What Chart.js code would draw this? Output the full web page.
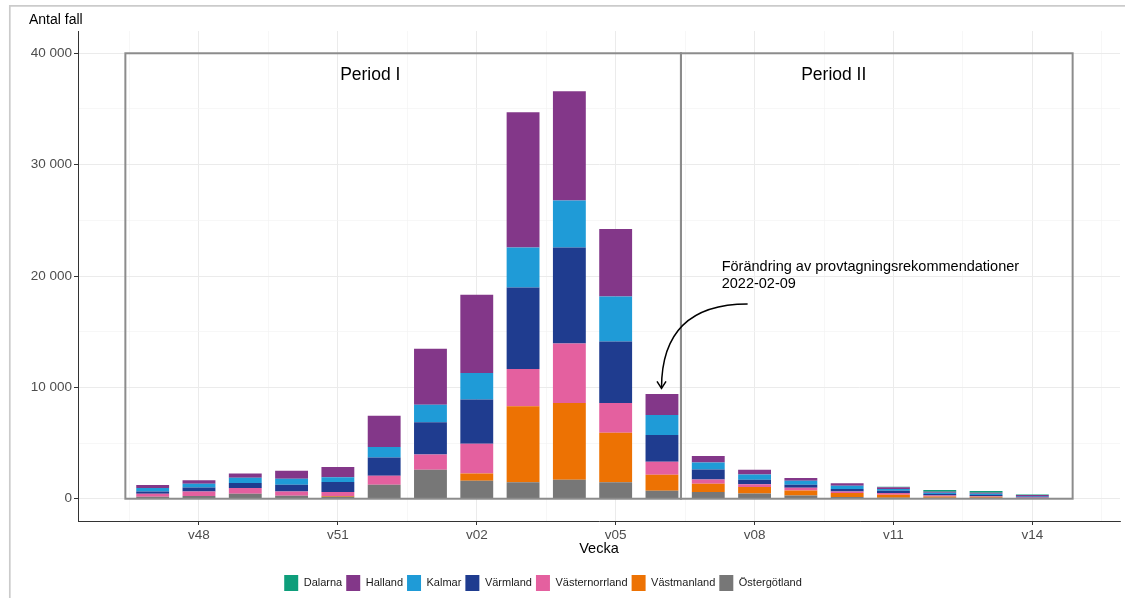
<!DOCTYPE html>
<html>
<head>
<meta charset="utf-8">
<script src="https://cdn.jsdelivr.net/npm/chart.js@4.4.1/dist/chart.umd.min.js"></script>
<style>
  html, body { margin: 0; padding: 0; background: #fff; }
  #wrap { width: 1125px; height: 598px; }
</style>
</head>
<body>
<div id="wrap"><canvas id="graf" width="1125" height="598"></canvas></div>
<script>
// Veckor och antal fall per län
const veckor = ['v47','v48','v49','v50','v51','v52','v01','v02','v03','v04','v05','v06','v07','v08','v09','v10','v11','v12','v13','v14'];
const ostergotland   = [180, 240, 450, 270, 180, 1260, 2610, 1620, 1470, 1710, 1470, 720, 600, 480, 300, 150, 90, 90, 80, 30];
const vastmanland    = [0, 0, 0, 0, 60, 0, 0, 650, 6830, 6890, 4460, 1440, 750, 570, 450, 360, 270, 120, 90, 40];
const vasternorrland = [270, 410, 510, 390, 360, 810, 1370, 2670, 3360, 5330, 2670, 1170, 380, 240, 240, 150, 150, 90, 60, 30];
const varmland       = [210, 360, 450, 600, 900, 1640, 2880, 3960, 7310, 8630, 5510, 2400, 900, 420, 270, 210, 210, 120, 110, 110];
const kalmar         = [300, 330, 480, 540, 420, 940, 1590, 2400, 3590, 4230, 4050, 1790, 630, 470, 360, 300, 150, 120, 110, 40];
const halland        = [270, 330, 380, 720, 930, 2810, 5010, 7010, 12140, 9790, 6070, 1890, 580, 430, 240, 210, 170, 90, 90, 90];
const dalarna        = [0, 0, 0, 0, 0, 0, 0, 0, 0, 0, 0, 0, 0, 0, 0, 0, 40, 150, 150, 50];

const yTickVarden = [0, 10000, 20000, 30000, 40000];
const xTickVeckor = ['v48', 'v51', 'v02', 'v05', 'v08', 'v11', 'v14'];

// Perioder (i veckoindex) och annotering
const periodNamn = ['Period I', 'Period II'];
const periodStart = [-0.59, 11.41];
const periodSlut = [11.41, 19.87];
const periodTopp = 40000;
const annoteringText = ['Förändring av provtagningsrekommendationer', '2022-02-09'];

const FONT = "'Liberation Sans', Arial, sans-serif";

// Lagren i staplingsordning, nedifrån och upp
const lager = [
  { namn: 'Östergötland', data: ostergotland, farg: '#777777' },
  { namn: 'Västmanland', data: vastmanland, farg: '#ED7203' },
  { namn: 'Västernorrland', data: vasternorrland, farg: '#E4609F' },
  { namn: 'Värmland', data: varmland, farg: '#1F3C8F' },
  { namn: 'Kalmar', data: kalmar, farg: '#1F9BD7' },
  { namn: 'Halland', data: halland, farg: '#833789' },
  { namn: 'Dalarna', data: dalarna, farg: '#0E9E7B' }
];

const xMajor = xTickVeckor.map(v => veckor.indexOf(v));
const xSteg = xMajor[1] - xMajor[0];
const xMarginal = (periodSlut[1] - periodStart[0]) * 0.05;

function tusental(v) {
  return String(v).replace(/\B(?=(\d{3})+(?!\d))/g, ' ');
}

const periodPlugin = {
  id: 'perioder',
  beforeDraw(chart) {
    // ram runt figuren
    const ctx = chart.ctx;
    ctx.save();
    ctx.strokeStyle = '#cbcbcb';
    ctx.lineWidth = 1.7;
    ctx.beginPath();
    ctx.moveTo(9.8, chart.height);
    ctx.lineTo(9.8, 5.8);
    ctx.lineTo(chart.width, 5.8);
    ctx.stroke();
    ctx.restore();
  },
  afterDatasetsDraw(chart) {
    const { ctx, scales: { x, y } } = chart;
    ctx.save();
    ctx.strokeStyle = '#8c8c8c';
    ctx.lineWidth = 2;
    const y0 = y.getPixelForValue(0);
    const y1 = y.getPixelForValue(periodTopp);
    periodNamn.forEach((namn, i) => {
      const x0 = x.getPixelForValue(periodStart[i]);
      const x1 = x.getPixelForValue(periodSlut[i]);
      ctx.strokeRect(x0, y1, x1 - x0, y0 - y1);
    });

    ctx.fillStyle = '#000';
    ctx.font = '17.5px ' + FONT;
    ctx.textAlign = 'center';
    ctx.textBaseline = 'middle';
    const periodTextX = [4.7, 14.71];
    periodNamn.forEach((namn, i) => {
      ctx.fillText(namn, x.getPixelForValue(periodTextX[i]), y.getPixelForValue(38000));
    });

    // annoteringstext
    ctx.font = '14.5px ' + FONT;
    ctx.textAlign = 'left';
    ctx.textBaseline = 'alphabetic';
    const tx = x.getPixelForValue(12.29);
    const ty = y.getPixelForValue(20470);
    annoteringText.forEach((rad, i) => ctx.fillText(rad, tx, ty + i * 17.6));

    // böjd pil
    const sx = x.getPixelForValue(12.85), sy = y.getPixelForValue(17480);
    const ex = x.getPixelForValue(10.99), ey = y.getPixelForValue(9910);
    ctx.strokeStyle = '#000';
    ctx.lineWidth = 1.5;
    ctx.beginPath();
    ctx.moveTo(sx, sy);
    ctx.quadraticCurveTo(ex, sy, ex, ey);
    ctx.stroke();
    ctx.beginPath();
    ctx.moveTo(ex - 4.5, ey - 7);
    ctx.lineTo(ex, ey);
    ctx.lineTo(ex + 4.5, ey - 7);
    ctx.stroke();
    ctx.restore();
  },
  afterDraw(chart) {
    const ctx = chart.ctx;
    ctx.save();
    ctx.fillStyle = '#000';
    ctx.font = '14px ' + FONT;
    ctx.textAlign = 'left';
    ctx.textBaseline = 'alphabetic';
    ctx.fillText('Antal fall', 29, 24);
    ctx.restore();
  }
};

const ctx = document.getElementById('graf').getContext('2d');
new Chart(ctx, {
  type: 'bar',
  data: {
    datasets: lager.map(l => ({
      label: l.namn,
      data: l.data.map((v, i) => ({ x: i, y: v })),
      backgroundColor: l.farg,
      borderWidth: 0,
      categoryPercentage: 1,
      barPercentage: 0.71
    }))
  },
  options: {
    responsive: false,
    animation: false,
    layout: { padding: { top: 31, right: 5, bottom: -3, left: -34 } },
    plugins: {
      tooltip: { enabled: false },
      legend: {
        position: 'bottom',
        labels: {
          font: { family: FONT, size: 11 },
          color: '#1a1a1a',
          boxWidth: 14,
          boxHeight: 16,
          padding: 4,
          sort: (a, b) => b.datasetIndex - a.datasetIndex
        }
      }
    },
    scales: {
      x: {
        type: 'linear',
        stacked: true,
        offset: false,
        min: periodStart[0] - xMarginal,
        max: periodSlut[1] + xMarginal,
        afterBuildTicks(scale) {
          const t = [];
          for (let v = xMajor[0] - xSteg / 2; v <= scale.max; v += xSteg / 2) t.push({ value: v });
          scale.ticks = t;
        },
        afterFit(scale) { scale.height = 50; },
        ticks: {
          autoSkip: false,
          maxRotation: 0,
          padding: 2,
          color: '#4d4d4d',
          font: { family: FONT, size: 13.5 },
          callback: v => xMajor.includes(v) ? veckor[v] : ''
        },
        grid: {
          offset: false,
          color: c => c.tick && xMajor.includes(c.tick.value) ? '#ebebeb' : '#f3f3f3',
          lineWidth: c => c.tick && xMajor.includes(c.tick.value) ? 1 : 0.7,
          tickColor: c => c.tick && xMajor.includes(c.tick.value) ? '#333' : 'rgba(0,0,0,0)',
          tickLength: 4
        },
        border: { display: true, color: '#333', width: 1 },
        title: {
          display: true,
          text: 'Vecka',
          color: '#000',
          font: { family: FONT, size: 14.5 },
          padding: { top: 0, bottom: 13.3 }
        }
      },
      y: {
        stacked: true,
        min: -2000,
        max: 42000,
        afterBuildTicks(scale) {
          const t = [];
          for (let v = 0; v <= 40000; v += 5000) t.push({ value: v });
          scale.ticks = t;
        },
        afterFit(scale) { scale.width = 112; },
        ticks: {
          padding: 2,
          color: '#4d4d4d',
          font: { family: FONT, size: 13.5 },
          callback: v => yTickVarden.includes(v) ? tusental(v) : ''
        },
        grid: {
          color: c => c.tick && yTickVarden.includes(c.tick.value) ? '#ebebeb' : '#f3f3f3',
          lineWidth: c => c.tick && yTickVarden.includes(c.tick.value) ? 1 : 0.7,
          tickColor: c => c.tick && yTickVarden.includes(c.tick.value) ? '#333' : 'rgba(0,0,0,0)',
          tickLength: 4
        },
        border: { display: true, color: '#333', width: 1 }
      }
    }
  },
  plugins: [periodPlugin]
});
</script>
</body>
</html>
